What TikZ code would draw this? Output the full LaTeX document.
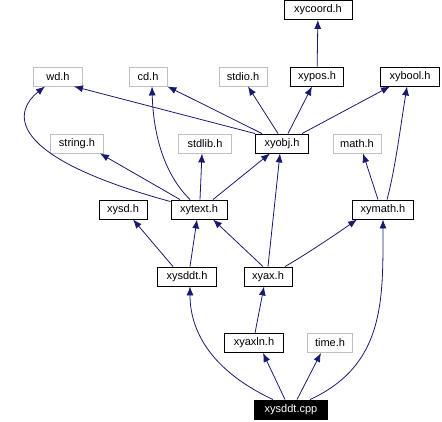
\documentclass[tikz,border=0pt]{standalone}
\usepackage{fontspec}
\setmainfont{Liberation Sans}
\usetikzlibrary{arrows.meta}
\definecolor{edgeblue}{HTML}{191970}
\definecolor{boxgray}{HTML}{BFBFBF}
\begin{document}
\begin{tikzpicture}
  [x=1pt,y=-1pt,
   hfile/.style={draw=black,line width=0.9pt,minimum height=19pt,inner sep=0pt,
     font=\fontsize{11}{13}\selectfont},
   sysfile/.style={hfile,draw=boxgray},
   root/.style={hfile,fill=black,text=white},
   dep/.style={draw=edgeblue,line width=0.8pt,-{Latex[length=9pt,width=7pt]}}]
  \useasboundingbox (0,0) rectangle (442,421);

  \node (xycoord) at (318,10) [hfile,minimum width=68pt] {xycoord.h};

  \node (wd) at (58,76.5) [sysfile,minimum width=49pt] {wd.h};
  \node (cd) at (148,76.5) [sysfile,minimum width=38pt] {cd.h};
  \node (stdio) at (243,76.5) [sysfile,minimum width=48pt] {stdio.h};
  \node (xypos) at (317,76.5) [hfile,minimum width=53pt] {xypos.h};
  \node (xybool) at (410,76.5) [hfile,minimum width=59pt] {xybool.h};

  \node (string) at (77,143.5) [sysfile,minimum width=53pt] {string.h};
  \node (stdlib) at (205,143.5) [sysfile,minimum width=53pt] {stdlib.h};
  \node (xyobj) at (282,143.5) [hfile,minimum width=53pt] {xyobj.h};
  \node (math) at (357,143.5) [sysfile,minimum width=48pt] {math.h};

  \node (xysd) at (123,209.5) [hfile,minimum width=48pt] {xysd.h};
  \node (xytext) at (199,209.5) [hfile,minimum width=56pt] {xytext.h};
  \node (xymath) at (383,209.5) [hfile,minimum width=61pt] {xymath.h};

  \node (xysddth) at (187,276.5) [hfile,minimum width=59pt] {xysddt.h};
  \node (xyax) at (268,276.5) [hfile,minimum width=48pt] {xyax.h};

  \node (xyaxln) at (254,343) [hfile,minimum width=59pt] {xyaxln.h};
  \node (time) at (330,343) [sysfile,minimum width=45pt] {time.h};

  \node (xysddtcpp) at (291,409.5) [root,minimum width=73pt] {xysddt.cpp};

  \draw [dep] (xypos) -- (xycoord);

  \draw [dep] (xyobj.north west) -- ([xshift=-9pt]wd.south east);
  \draw [dep] ([xshift=-20pt]xyobj.north) -- (cd.south east);
  \draw [dep] ([xshift=-4pt]xyobj.north) -- ([xshift=5pt]stdio.south);
  \draw [dep] ([xshift=6pt]xyobj.north) -- ([xshift=-5pt]xypos.south);
  \draw [dep] ([xshift=20pt]xyobj.north) -- ([xshift=-20pt]xybool.south);

  \draw [dep] ([yshift=-2pt]xytext.north west) .. controls (0,155) and (15,110) .. ([xshift=-13pt]wd.south);
  \draw [dep] ([xshift=-9pt]xytext.north) .. controls (160,170) and (153,125) .. ([xshift=4pt]cd.south);
  \draw [dep] ([xshift=-19pt]xytext.north) -- ([xshift=-4pt]string.south east);
  \draw [dep] ([xshift=1pt]xytext.north) -- ([xshift=-3pt]stdlib.south);
  \draw [dep] ([xshift=14pt]xytext.north) -- ([xshift=-12pt]xyobj.south);

  \draw [dep] ([xshift=-5pt]xymath.north) -- ([xshift=6pt]math.south);
  \draw [dep] ([xshift=4pt]xymath.north) .. controls (395,170) and (400,130) .. ([xshift=-3pt]xybool.south);

  \draw [dep] ([xshift=-14pt]xysddth.north) -- ([xshift=10pt]xysd.south);
  \draw [dep] ([xshift=3pt]xysddth.north) -- ([xshift=-2pt]xytext.south);

  \draw [dep] ([xshift=-5pt]xyax.north) -- ([xshift=14pt]xytext.south);
  \draw [dep] (xyax.north) -- ([xshift=-2pt]xyobj.south);
  \draw [dep] ([xshift=17pt]xyax.north) .. controls (305,255) and (335,235) .. ([xshift=-26pt]xymath.south);

  \draw [dep] ([xshift=1pt]xyaxln.north) -- ([xshift=-4pt]xyax.south);

  \draw [dep] ([xshift=-6pt]xysddtcpp.north) -- ([xshift=9pt]xyaxln.south);
  \draw [dep] ([xshift=6pt]xysddtcpp.north) -- ([xshift=-9pt]time.south);
  \draw [dep] ([xshift=-18pt]xysddtcpp.north) .. controls (210,370) and (190,330) .. ([xshift=3pt]xysddth.south);
  \draw [dep] ([xshift=19pt]xysddtcpp.north) .. controls (385,365) and (383,300) .. (xymath.south);
\end{tikzpicture}
\end{document}
